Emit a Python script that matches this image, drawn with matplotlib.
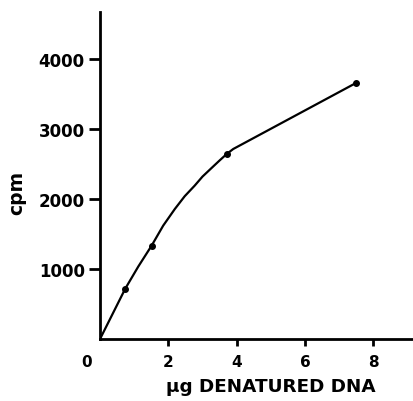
import matplotlib.pyplot as plt
from matplotlib.transforms import ScaledTranslation

# measured points
dna_ug = [0.74, 1.51, 3.71, 7.48]
cpm = [720, 1333, 2643, 3653]

# hand drawn fit curve
curve_x = [0, 0.74, 1.12, 1.51, 1.85, 2.19, 2.48, 2.77, 3.0, 3.26, 3.5, 3.71, 3.9, 7.48]
curve_y = [0, 720, 1035, 1333, 1620, 1857, 2040, 2190, 2320, 2440, 2550, 2643, 2714, 3653]

x_ticks = [0, 2, 4, 6, 8]
y_ticks = [1000, 2000, 3000, 4000]

plt.rcParams['font.family'] = ['DejaVu Sans']
plt.rcParams['font.weight'] = 'bold'

fig = plt.figure(figsize=(4.14, 4.02), dpi=100)
ax = fig.add_axes([0.2415, 0.154, 0.7585, 0.8137])

ax.plot(curve_x, curve_y, color='black', lw=1.6)
ax.plot(dna_ug, cpm, 'o', color='black', markersize=4)

ax.set_xlim(0, 9.19)
ax.set_ylim(0, 4670)

ax.spines['top'].set_visible(False)
ax.spines['right'].set_visible(False)
ax.spines['left'].set_linewidth(2)
ax.spines['bottom'].set_linewidth(2)

ax.set_xticks(x_ticks)
ax.set_xticklabels([str(t) for t in x_ticks], fontsize=11, fontweight='bold')
ax.set_yticks(y_ticks)
ax.set_yticklabels([str(t) for t in y_ticks], fontsize=12, fontweight='bold')
ax.tick_params(axis='x', direction='out', length=5, width=2, pad=6)
ax.tick_params(axis='y', direction='out', length=8, width=2, pad=3)

# the 0 sits left of the origin
lab0 = ax.get_xticklabels()[0]
lab0.set_transform(lab0.get_transform() + ScaledTranslation(-0.13, 0, fig.dpi_scale_trans))
ax.get_xticklines()[0].set_visible(False)

ax.set_xlabel('µg DENATURED DNA', fontsize=13.2, fontweight='bold')
ax.xaxis.set_label_coords(0.545, -0.115)
ax.set_ylabel('cpm', fontsize=13.5, fontweight='bold')
ax.yaxis.set_label_coords(-0.235, 0.45)

fig.savefig('out.png', dpi=100)
